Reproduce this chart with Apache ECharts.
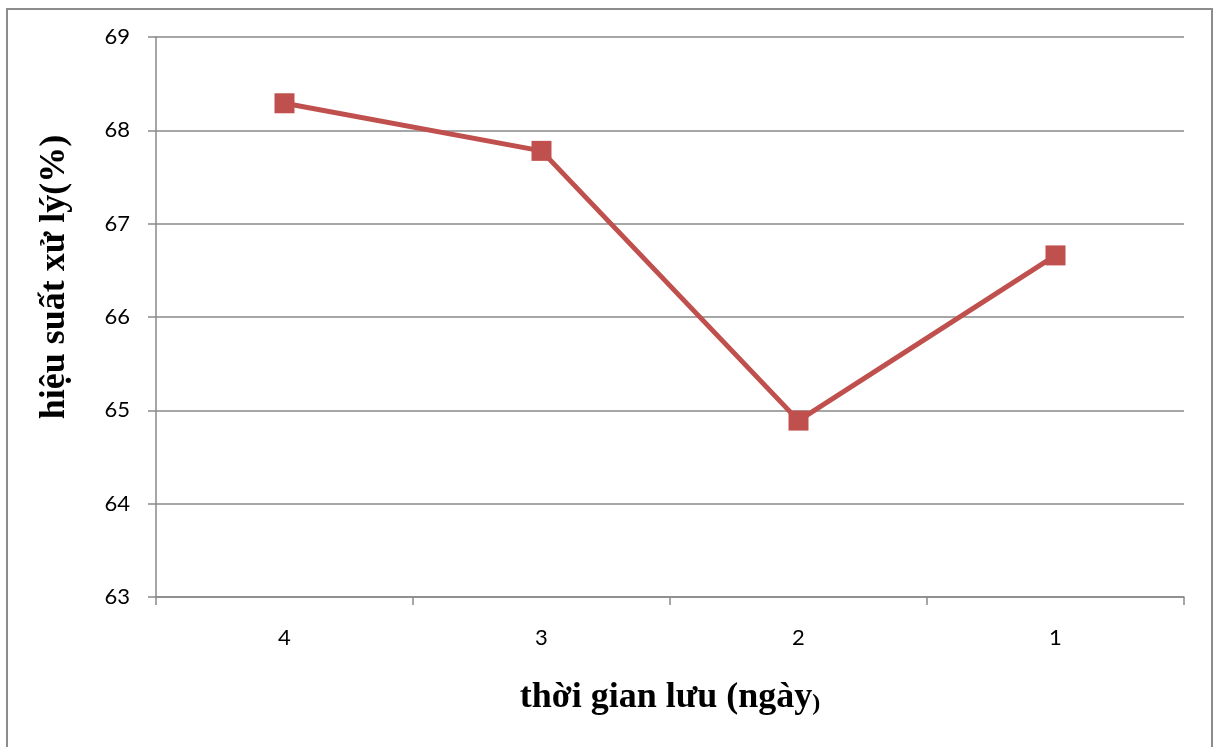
<!DOCTYPE html>
<html>
<head>
<meta charset="utf-8">
<title>Hiệu suất xử lý theo thời gian lưu</title>
<script src="https://cdn.jsdelivr.net/npm/echarts@6/dist/echarts.min.js"></script>
<style>
  html, body { margin: 0; padding: 0; background: #ffffff; }
  #chart { width: 1216px; height: 747px; }
</style>
</head>
<body>
<div id="chart"></div>
<script>
// Retention time (days) and treatment efficiency (%)
const categories = ['4', '3', '2', '1'];
const efficiency = [68.29, 67.78, 64.89, 66.66];
const yMin = 63, yMax = 69, yStep = 1;

const axisGrey = '#898989';
const lineRed = '#C0504D';

const chart = echarts.init(document.getElementById('chart'), null, { renderer: 'canvas' });

chart.setOption({
  animation: false,
  backgroundColor: '#ffffff',
  grid: { left: 156, top: 37, right: 32, bottom: 150, containLabel: false },
  xAxis: {
    type: 'category',
    data: categories,
    boundaryGap: true,
    axisLine: { show: true, lineStyle: { color: axisGrey, width: 1.5 } },
    axisTick: { show: true, length: 8, interval: 0, lineStyle: { color: axisGrey, width: 1.5 } },
    axisLabel: { margin: 30, fontFamily: 'Lato, "Open Sans", sans-serif', fontSize: 22, color: '#000' },
    splitLine: { show: false }
  },
  yAxis: {
    type: 'value',
    min: yMin,
    max: yMax,
    interval: yStep,
    axisLine: { show: true, lineStyle: { color: axisGrey, width: 1.5 } },
    axisTick: { show: true, length: 8, lineStyle: { color: axisGrey, width: 1.5 } },
    axisLabel: { margin: 26, fontFamily: 'Lato, "Open Sans", sans-serif', fontSize: 22, color: '#000' },
    splitLine: { show: true, lineStyle: { color: axisGrey, width: 1.5 } }
  },
  series: [{
    type: 'line',
    data: efficiency,
    symbol: 'rect',
    symbolSize: 20,
    lineStyle: { color: lineRed, width: 5 },
    itemStyle: { color: lineRed },
    z: 3
  }],
  graphic: [
    {
      type: 'rect',
      shape: { x: 7, y: 9, width: 1205, height: 760 },
      style: { fill: 'none', stroke: '#8c8c8c', lineWidth: 2 },
      silent: true, z: -1
    },
    {
      type: 'text',
      x: 55, y: 277,
      rotation: Math.PI / 2,
      style: {
        text: 'hiệu suất xử lý(%)',
        font: 'bold 36px "Liberation Serif", "Times New Roman", serif',
        fill: '#000',
        align: 'center',
        verticalAlign: 'middle'
      }
    },
    {
      type: 'text',
      x: 670, y: 698,
      style: {
        text: '{a|thời gian lưu (ngày}{b|)}',
        align: 'center',
        verticalAlign: 'middle',
        rich: {
          a: { font: 'bold 36px "Liberation Serif", "Times New Roman", serif', fill: '#000', verticalAlign: 'bottom' },
          b: { font: 'bold 24px "Liberation Serif", "Times New Roman", serif', fill: '#000', verticalAlign: 'bottom' }
        }
      }
    }
  ]
});
</script>
</body>
</html>
